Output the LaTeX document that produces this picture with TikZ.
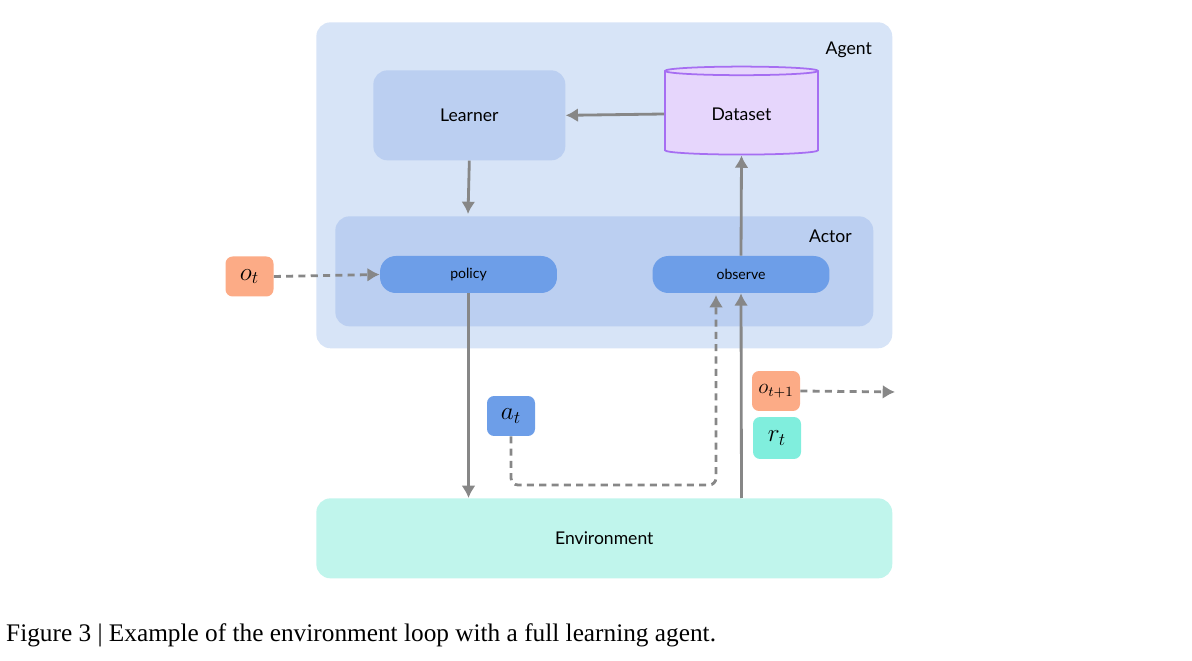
\documentclass[tikz,border=0pt]{standalone}
\usepackage{fontspec}
\setmainfont{Lato}
\usepackage{amsmath}
\usetikzlibrary{shapes.geometric}
\usetikzlibrary{positioning}
\usetikzlibrary{arrows.meta}
\definecolor{agentbg}{HTML}{D7E4F7}
\definecolor{actorbg}{HTML}{BBCFF1}
\definecolor{pill}{HTML}{6D9EE8}
\definecolor{dsfill}{HTML}{E6D6FC}
\definecolor{dsdraw}{HTML}{A66EF2}
\definecolor{obs}{HTML}{FCAB86}
\definecolor{rew}{HTML}{80EEDD}
\definecolor{env}{HTML}{C0F5EC}
\definecolor{arr}{HTML}{878787}
\tikzstyle{box} = [rectangle, rounded corners=8pt, inner sep=0pt]
\tikzstyle{op} = [box, fill=pill, rounded corners=9pt, minimum width=3.54cm, minimum height=0.74cm, font=\footnotesize]
\tikzstyle{sig} = [box, rounded corners=4pt, minimum width=0.96cm, minimum height=0.8cm, font=\Large]
\tikzstyle{flow} = [draw=arr, line width=1.6pt, -{Latex[length=7pt,width=8pt]}]
\tikzstyle{dflow} = [flow, dashed, dash pattern=on 4pt off 3pt]
\begin{document}
\begin{tikzpicture}[x=0.02cm, y=-0.02cm]
    \useasboundingbox (0,0) rectangle (1192,661);

    \node(agent)[box, fill=agentbg, minimum width=11.52cm, minimum height=6.52cm, anchor=north west] at (316,22) {};
    \node[anchor=north east] at (878,36) {Agent};

    \node(learner)[box, fill=actorbg, minimum width=3.84cm, minimum height=1.8cm, anchor=north west] at (373,70) {Learner};
    \node(dataset)[cylinder, shape border rotate=90, aspect=0.12, draw=dsdraw, fill=dsfill, line width=1pt, minimum width=3.06cm, minimum height=1.76cm] at (741.5,114) {Dataset};

    \node(actor)[box, fill=actorbg, minimum width=10.76cm, minimum height=2.2cm, anchor=north west] at (335,216) {};
    \node[anchor=north east] at (858,224) {Actor};
    \node(policy)[op] at (468.5,274.5) {policy};
    \node(observe)[op] at (741,274.5) {observe};

    \node(ot)[sig, fill=obs] at (249.5,276.5) {$o_t$};
    \node(at)[sig, fill=pill] at (511,416) {$a_t$};
    \node(otn)[sig, fill=obs, font=\large] at (776,391) {$o_{t+1}$};
    \node(rt)[sig, fill=rew, minimum height=0.84cm] at (777,438) {$r_t$};

    \node(envir)[box, fill=env, minimum width=11.52cm, minimum height=1.6cm, anchor=north west] at (316,498) {Environment};

    \coordinate(turn1) at (511,485);
    \coordinate(turn2) at (716,485);
    \coordinate(out) at (895,392);

    \draw[flow] (dataset.west) -- (learner.east);
    \draw[flow] (learner.south) -- (468,214);
    \draw[flow] (observe.north) -- (dataset.south);
    \draw[flow] (policy.south) -- (envir.north -| policy.south);
    \draw[flow] (envir.north -| dataset.south) -- (observe.south);
    \draw[dflow] (ot.east) -- (policy.west);
    \draw[dflow, rounded corners=4pt] (at.south) -- (turn1) -- (turn2) -- (716,295);
    \draw[dflow] (otn.east) -- (out);

    \node[anchor=west, font=\fontspec{Liberation Serif}\Large] at (0,635) {Figure 3 | Example of the environment loop with a full learning agent.};
\end{tikzpicture}
\end{document}
